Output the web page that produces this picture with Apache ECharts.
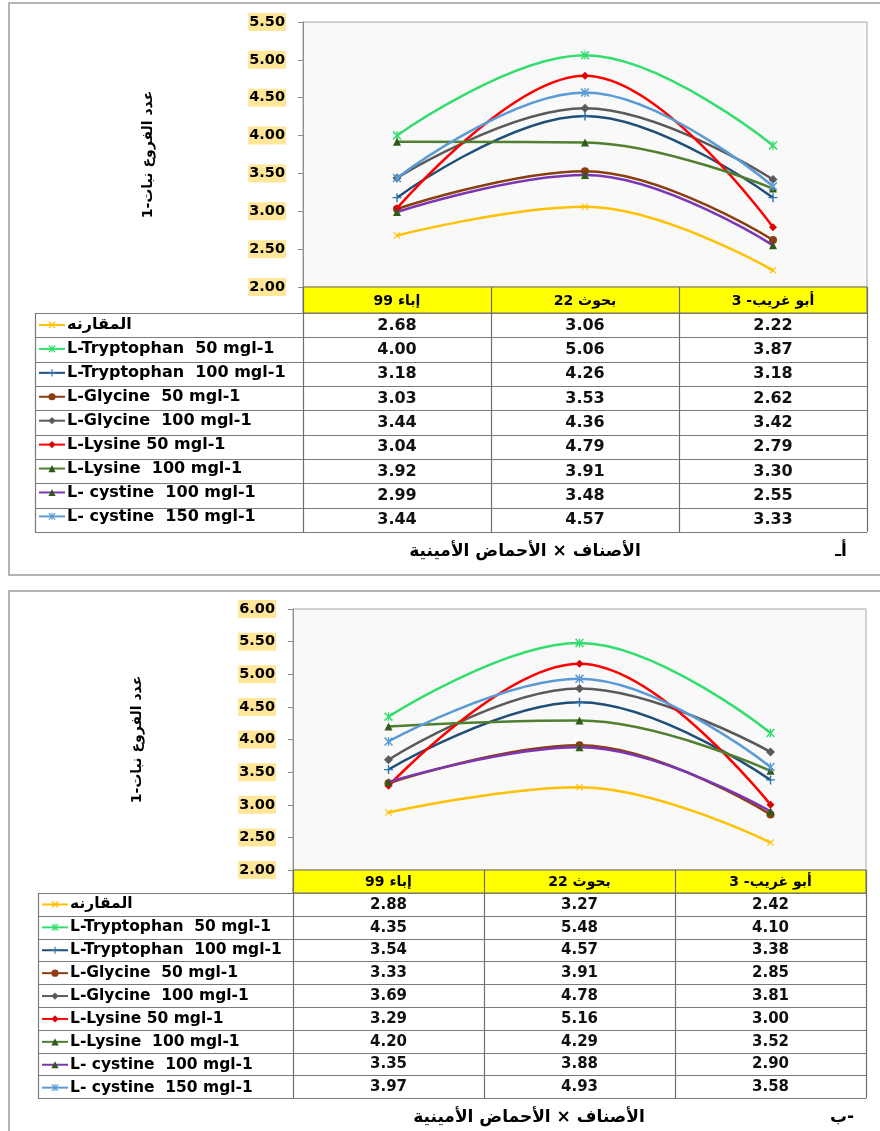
<!DOCTYPE html>
<html><head><meta charset="utf-8">
<script src="https://cdn.jsdelivr.net/npm/echarts@6/dist/echarts.min.js"></script>
<style>html,body{margin:0;padding:0;background:#fff}#c{width:880px;height:1131px}</style>
</head><body><div id="c"></div>
<script>
// ---------- DATA ----------
const categories = ['إباء 99', 'بحوث 22', 'أبو غريب- 3'];
const treatments = ['المقارنه', 'L-Tryptophan  50 mgl-1', 'L-Tryptophan  100 mgl-1', 'L-Glycine  50 mgl-1', 'L-Glycine  100 mgl-1', 'L-Lysine 50 mgl-1', 'L-Lysine  100 mgl-1', 'L- cystine  100 mgl-1', 'L- cystine  150 mgl-1'];

// Panel أ
const a_control = [2.68, 3.06, 2.22];
const a_trp50   = [4.00, 5.06, 3.87];
const a_trp100  = [3.18, 4.26, 3.18];
const a_gly50   = [3.03, 3.53, 2.62];
const a_gly100  = [3.44, 4.36, 3.42];
const a_lys50   = [3.04, 4.79, 2.79];
const a_lys100  = [3.92, 3.91, 3.30];
const a_cys100  = [2.99, 3.48, 2.55];
const a_cys150  = [3.44, 4.57, 3.33];

// Panel ب
const b_control = [2.88, 3.27, 2.42];
const b_trp50   = [4.35, 5.48, 4.10];
const b_trp100  = [3.54, 4.57, 3.38];
const b_gly50   = [3.33, 3.91, 2.85];
const b_gly100  = [3.69, 4.78, 3.81];
const b_lys50   = [3.29, 5.16, 3.00];
const b_lys100  = [4.20, 4.29, 3.52];
const b_cys100  = [3.35, 3.88, 2.90];
const b_cys150  = [3.97, 4.93, 3.58];

const yAxisA = { min: 2, max: 5.5, interval: 0.5 };
const yAxisB = { min: 2, max: 6, interval: 0.5 };
const yTitle = 'عدد الفروع نبات-1';
const caption = 'الأصناف × الأحماض الأمينية';
const panelLetters = ['أـ', 'ب-'];

// ---------- STYLES ----------
const X = 'path://M0,1.2L1.2,0L10,8.8L8.8,10Z M8.8,0L10,1.2L1.2,10L0,8.8Z';
const STAR = 'path://M0,1.2L1.2,0L10,8.8L8.8,10Z M8.8,0L10,1.2L1.2,10L0,8.8Z M4.3,0h1.4v10h-1.4z';
const PLUS = 'path://M4.2,0h1.6v10h-1.6z M0,4.3h10v1.4h-10z';
const styles = [
  { line: '#FFC000', sym: '#FFC000', symbol: X, size: 7 },
  { line: '#33DD6E', sym: '#33DD6E', symbol: STAR, size: 9 },
  { line: '#1F4E79', sym: '#2E75B6', symbol: PLUS, size: 9 },
  { line: '#8B3E10', sym: '#8B3E10', symbol: 'circle', size: 8 },
  { line: '#5A5A5A', sym: '#5A5A5A', symbol: 'diamond', size: 9 },
  { line: '#FF0000', sym: '#E00000', symbol: 'diamond', size: 8 },
  { line: '#4F7F2F', sym: '#2F5A1A', symbol: 'triangle', size: 8 },
  { line: '#7B35B5', sym: '#2F5A1A', symbol: 'triangle', size: 8 },
  { line: '#5B9BD5', sym: '#5B9BD5', symbol: STAR, size: 9 }
];

const panels = [
  { data: [a_control, a_trp50, a_trp100, a_gly50, a_gly100, a_lys50, a_lys100, a_cys100, a_cys150],
    y: yAxisA, grid: { left: 303, top: 22, width: 564, height: 265 },
    rowTop: 313, rowH: 24.33, legendLeft: 35, numFont: 16, legFont: 16, legH: 16.4,
    box: { x: 9, y: 3, h: 572 }, capY: 552, capX: 525, letterX: 841, nameGap: 148 },
  { data: [b_control, b_trp50, b_trp100, b_gly50, b_gly100, b_lys50, b_lys100, b_cys100, b_cys150],
    y: yAxisB, grid: { left: 293, top: 609, width: 573, height: 261 },
    rowTop: 893, rowH: 22.8, legendLeft: 38, numFont: 15, legFont: 15.5, legH: 15.9,
    box: { x: 9, y: 591, h: 560 }, capY: 1118, capX: 529, letterX: 842, nameGap: 149 }
];

const FONT = 'DejaVu Sans';
const option = { animation: false, grid: [], xAxis: [], yAxis: [], series: [], legend: [], graphic: [] };

panels.forEach((p, pi) => {
  const g = p.grid;
  option.grid.push({ left: g.left, top: g.top, width: g.width, height: g.height, show: true,
    backgroundColor: '#F9F9F9', borderColor: '#A6A6A6', borderWidth: 1 });
  option.xAxis.push({ type: 'category', gridIndex: pi, data: categories, boundaryGap: true,
    axisLine: { show: false }, axisTick: { show: false }, axisLabel: { show: false } });
  option.yAxis.push({ type: 'value', gridIndex: pi, min: p.y.min, max: p.y.max, interval: p.y.interval,
    name: yTitle, nameLocation: 'middle', nameRotate: 90, nameGap: p.nameGap,
    nameTextStyle: { fontFamily: FONT, fontWeight: 'bold', fontSize: 14, color: '#000' },
    splitLine: { show: false },
    axisLine: { show: true, lineStyle: { color: '#8C8C8C', width: 1 } },
    axisTick: { show: true, length: 5, lineStyle: { color: '#8C8C8C' } },
    axisLabel: { formatter: v => v.toFixed(2), margin: 17, fontFamily: FONT, fontWeight: 'bold', fontSize: 14.5,
      color: '#000', backgroundColor: '#FFE699', padding: [2, 1, 1, 1] } });

  p.data.forEach((vals, si) => {
    const s = styles[si];
    option.series.push({ type: 'line', name: treatments[si], xAxisIndex: pi, yAxisIndex: pi,
      data: vals, smooth: 0.4, symbol: s.symbol, symbolSize: s.size, showSymbol: true,
      lineStyle: { color: s.line, width: 2.5 }, itemStyle: { color: s.sym },
      emphasis: { disabled: true }, z: 2 + si });
  });

  option.legend.push({ orient: 'vertical', left: p.legendLeft + 3, top: p.rowTop + p.rowH / 2 - p.legH / 2,
    padding: 0, itemWidth: 26, itemHeight: 9, itemGap: p.rowH - p.legH, data: treatments, selectedMode: false,
    textStyle: { fontFamily: FONT, fontWeight: 'bold', fontSize: p.legFont, color: '#000', padding: [0, 0, 0, -3] } });

  // panel frame
  option.graphic.push({ type: 'rect', silent: true, z: 0,
    shape: { x: p.box.x, y: p.box.y, width: 900, height: p.box.h },
    style: { fill: 'none', stroke: '#B4B4B4', lineWidth: 2 } });

  // table
  const colW = g.width / categories.length;
  const headTop = g.top + g.height;
  const bottom = p.rowTop + p.rowH * treatments.length;
  option.graphic.push({ type: 'rect', silent: true, z: 1,
    shape: { x: g.left, y: headTop, width: g.width, height: p.rowTop - headTop },
    style: { fill: '#FFFF00', stroke: '#6E6E6E', lineWidth: 1 } });
  categories.forEach((c, k) => {
    option.graphic.push({ type: 'text', silent: true, z: 6,
      x: g.left + (k + 0.5) * colW, y: headTop + (p.rowTop - headTop) / 2 + 1,
      style: { text: c, fill: '#000', font: 'bold 14px "' + FONT + '"', textAlign: 'center', textVerticalAlign: 'middle' } });
  });
  for (let i = 0; i <= treatments.length; i++) {
    const y = Math.round(p.rowTop + i * p.rowH) + 0.5;
    option.graphic.push({ type: 'line', silent: true, z: 5,
      shape: { x1: p.legendLeft, y1: y, x2: g.left + g.width, y2: y },
      style: { stroke: '#7A7A7A', lineWidth: 1.2 } });
  }
  option.graphic.push({ type: 'line', silent: true, z: 5,
    shape: { x1: p.legendLeft + 0.5, y1: p.rowTop, x2: p.legendLeft + 0.5, y2: bottom },
    style: { stroke: '#7A7A7A', lineWidth: 1.2 } });
  for (let k = 0; k <= categories.length; k++) {
    const x = Math.round(g.left + k * colW) + 0.5;
    option.graphic.push({ type: 'line', silent: true, z: 5,
      shape: { x1: x, y1: headTop, x2: x, y2: bottom },
      style: { stroke: '#6E6E6E', lineWidth: 1.2 } });
  }
  p.data.forEach((vals, si) => {
    vals.forEach((v, k) => {
      option.graphic.push({ type: 'text', silent: true, z: 6,
        x: g.left + (k + 0.5) * colW, y: p.rowTop + (si + 0.5) * p.rowH + 0.5,
        style: { text: v.toFixed(2), fill: '#111', font: 'bold ' + p.numFont + 'px "' + FONT + '"',
          textAlign: 'center', textVerticalAlign: 'middle' } });
    });
  });
  // captions
  option.graphic.push({ type: 'text', silent: true, z: 6, x: p.capX, y: p.capY,
    style: { text: caption, fill: '#000', font: 'bold 17px "' + FONT + '"', textAlign: 'center', textVerticalAlign: 'middle' } });
  option.graphic.push({ type: 'text', silent: true, z: 6, x: p.letterX, y: p.capY,
    style: { text: panelLetters[pi], fill: '#000', font: 'bold 17px "' + FONT + '"', textAlign: 'center', textVerticalAlign: 'middle' } });
});

const chart = echarts.init(document.getElementById('c'), null, { renderer: 'canvas' });
chart.setOption(option);
</script>
</body></html>
